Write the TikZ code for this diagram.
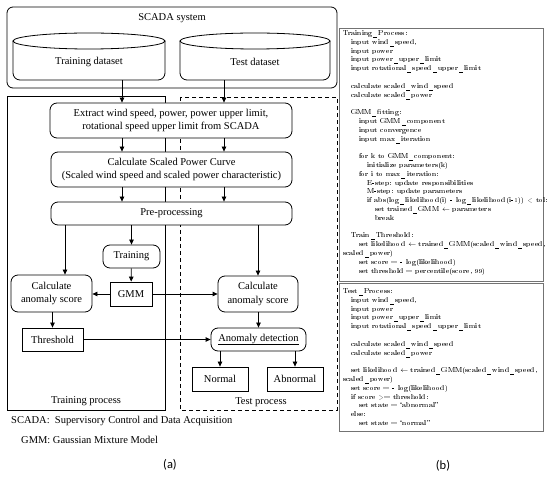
\documentclass[tikz,border=0pt]{standalone}
\usepackage[T1]{fontenc}
\usepackage{fontspec}
\setmainfont{Liberation Serif}
\newfontfamily\capfont{Carlito}
\usetikzlibrary{arrows.meta}
\newcommand{\codefont}{\fontencoding{T1}\fontfamily{qpl}\fontsize{7}{8.8}\selectfont}
\newcommand{\ind}[1]{\hspace*{#1pt}}
\tikzset{
  box/.style={draw, fill=white, line width=0.8pt, inner sep=0pt, align=center, font=\fontsize{10.5}{13.5}\selectfont},
  rbox/.style={box, rounded corners=7pt},
  arr/.style={line width=0.8pt, -{Triangle[length=5pt,width=4.5pt]}},
  frame/.style={line width=0.8pt},
  lbl/.style={inner sep=0pt, font=\fontsize{10.5}{13.5}\selectfont},
  codebox/.style={draw=black!55, line width=0.6pt},
  code/.style={inner sep=0pt, align=left, anchor=north west, font=\codefont},
}
\begin{document}
\begin{tikzpicture}[x=1pt,y=-1pt]
\useasboundingbox (0,0) rectangle (550,478);
% column coordinates
\coordinate (c1) at (122,0);
\coordinate (c2) at (224,0);
% SCADA system
\draw[frame, rounded corners=6pt] (7,7) rectangle (337,88);
\node[lbl] (scada) at (172,18) {SCADA system};
% cylinders
\foreach \xa/\xb in {13/165, 180/330}{
  \pgfmathsetmacro{\xm}{(\xa+\xb)/2}
  \pgfmathsetmacro{\rx}{(\xb-\xa)/2}
  \filldraw[frame, fill=white, rounded corners=7pt] (\xa,41) -- (\xa,80) -- (\xb,80) -- (\xb,41);
  \draw[frame] (\xm,41) ellipse [x radius=\rx, y radius=8];
}
\node[inner sep=0pt, minimum width=152pt, minimum height=47pt] (trainds) at (89,56.5) {};
\node[inner sep=0pt, minimum width=150pt, minimum height=47pt] (testds) at (255,56.5) {};
\node[lbl] (trainlbl) at (89,62) {Training dataset};
\node[lbl] (testlbl) at (255,62) {Test dataset};
% process frames
\draw[frame] (7,96) rectangle (165,410);
\draw[frame, dashed, dash pattern=on 4pt off 3pt] (180,97) rectangle (337,410);
\node[lbl] (trproc) at (86,401) {Training process};
\node[lbl] (teproc) at (261,402) {Test process};
% main nodes
\node[rbox, minimum width=242pt, minimum height=35pt] (extract) at (171,120.5) {Extract wind speed, power, power upper limit,\\ rotational speed upper limit from SCADA};
\node[rbox, minimum width=241pt, minimum height=35pt] (scaled) at (171.5,169.5) {Calculate Scaled Power Curve\\ (Scaled wind speed and scaled power characteristic)};
\node[rbox, minimum width=241pt, minimum height=23pt] (pre) at (171.5,213.5) {Pre-processing};
\node[rbox, minimum width=57pt, minimum height=23pt] (training) at (131.5,256.5) {Training};
\node[box, minimum width=42pt, minimum height=24pt] (gmm) at (131,294) {GMM};
\node[rbox, minimum width=81pt, minimum height=37pt] (anom1) at (51.5,293.5) {Calculate\\ anomaly score};
\node[rbox, minimum width=80pt, minimum height=36pt] (anom2) at (258,294) {Calculate\\ anomaly score};
\node[box, minimum width=61pt, minimum height=23pt] (thresh) at (52.5,339.5) {Threshold};
\node[rbox, minimum width=95pt, minimum height=23pt] (detect) at (258.5,339.5) {\underline{Anomaly detection}};
\node[box, minimum width=56pt, minimum height=24pt] (normal) at (220,379) {Normal};
\node[box, minimum width=56pt, minimum height=24pt] (abnormal) at (295,379) {Abnormal};
% arrows
\draw[arr] (trainds.south -| c1) -- (extract.north -| c1);
\draw[arr] (testds.south -| c2) -- (extract.north -| c2);
\draw[arr] (extract.south -| c1) -- (scaled.north -| c1);
\draw[arr] (extract.south -| c2) -- (scaled.north -| c2);
\draw[arr] (scaled.south -| c1) -- (pre.north -| c1);
\draw[arr] (scaled.south -| c2) -- (pre.north -| c2);
\coordinate (c3) at (65,0);
\draw[arr] (pre.south -| c3) -- (anom1.north -| c3);
\draw[arr] (pre.south -| training) -- (training.north);
\draw[arr] (pre.south -| anom2) -- (anom2.north);
\draw[arr] (training) -- (gmm);
\draw[arr] (gmm.west) -- (anom1.east |- gmm.west);
\draw[arr] (gmm.east) -- (anom2.west |- gmm.east);
\draw[arr] (anom1.south -| thresh) -- (thresh.north);
\draw[arr] (thresh.east) -- (detect.west |- thresh.east);
\draw[arr] (anom2.south -| detect) -- (detect.north);
\draw[arr] (detect.south -| normal) -- (normal.north);
\draw[arr] (detect.south -| abnormal) -- (abnormal.north);
% footnotes
\node[lbl, anchor=west] (fn1) at (11,421) {SCADA:\ \ Supervisory Control and Data Acquisition};
\node[lbl, anchor=west] (fn2) at (21,440) {GMM: Gaussian Mixture Model};
\node[inner sep=0pt, font=\capfont\fontsize{12.5}{14}\selectfont] (capa) at (170,465) {(a)};
\node[inner sep=0pt, font=\capfont\fontsize{12.5}{14}\selectfont] (capb) at (443,466) {(b)};
% code boxes
\draw[codebox] (339,28) rectangle (543,281);
\draw[codebox] (339,283) rectangle (543,431);
\node[code] (code1) at (343,30.5) {Training\_Process:\\
\ind{8}input wind\_speed,\\
\ind{8}input power\\
\ind{8}input power\_upper\_limit\\
\ind{8}input rotational\_speed\_upper\_limit\\
\mbox{}\\
\ind{8}calculate scaled\_wind\_speed\\
\ind{8}calculate scaled\_power\\
\mbox{}\\
\ind{8}GMM\_fitting:\\
\ind{16}input GMM\_component\\
\ind{16}input convergence\\
\ind{16}input max\_iteration\\
\mbox{}\\
\ind{16}for k to GMM\_component:\\
\ind{24}initialize parameters(k)\\
\ind{16}for i to max\_iteration:\\
\ind{24}E-step: update responsibilities\\
\ind{24}M-step: update parameters\\
\ind{24}if abs(log\_likelihood(i) - log\_likelihood(i-1)) < tol:\\
\ind{32}set trained\_GMM $\leftarrow$ parameters\\
\ind{32}break\\
\mbox{}\\
\ind{8}Train\_Threshold:\\
\ind{16}set likelihood $\leftarrow$ trained\_GMM(scaled\_wind\_speed,\\
scaled\_power)\\
\ind{16}set score = - log(likelihood)\\
\ind{16}set threshold = percentile(score, 99)};
\node[code] (code2) at (343,288.5) {Test\_Process:\\
\ind{8}input wind\_speed,\\
\ind{8}input power\\
\ind{8}input power\_upper\_limit\\
\ind{8}input rotational\_speed\_upper\_limit\\
\mbox{}\\
\ind{8}calculate scaled\_wind\_speed\\
\ind{8}calculate scaled\_power\\
\mbox{}\\
\ind{8}set likelihood $\leftarrow$ trained\_GMM(scaled\_wind\_speed,\\
scaled\_power)\\
\ind{8}set score = - log(likelihood)\\
\ind{8}if score >= threshold:\\
\ind{16}set state = ``abnormal''\\
\ind{8}else:\\
\ind{16}set state = ``normal''};
\end{tikzpicture}
\end{document}
